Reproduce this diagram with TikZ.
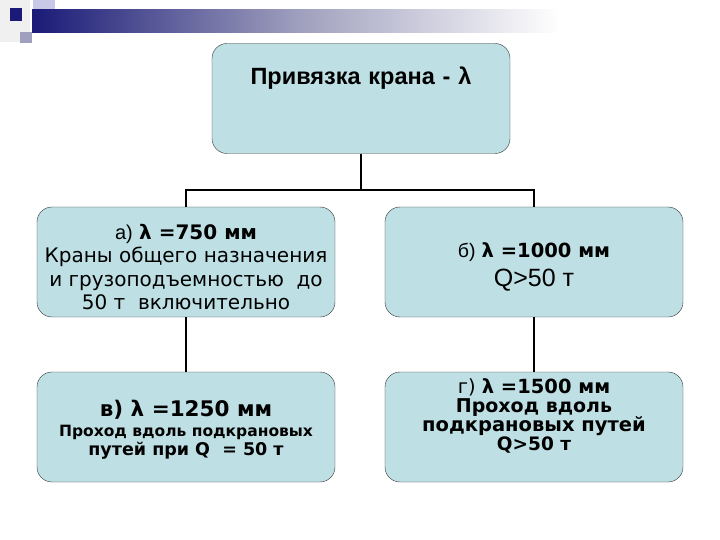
\documentclass[tikz,border=0pt]{standalone}
\usepackage{fontspec}
\setmainfont{DejaVu Sans}
\newfontfamily\arialfont{Liberation Sans}
\usetikzlibrary{positioning}
\definecolor{boxfill}{RGB}{190,224,228}
\definecolor{hdrnavy}{RGB}{26,26,120}
\definecolor{hdrgray}{RGB}{160,160,190}
\definecolor{hdrlav}{RGB}{200,200,232}
\newcommand{\fsz}[2]{\fontsize{#1}{#2}\selectfont}

\begin{document}
\begin{tikzpicture}[x=1pt,y=-1pt,
    cranebox/.style={draw=black!80,fill=boxfill,rounded corners=15pt,minimum width=298pt,minimum height=110pt,align=center,inner sep=0pt},
    link/.style={line width=2pt,black}]
    \useasboundingbox (0,0) rectangle (720,540);
    % header strip
    \fill[black!6] (0,0) rectangle (30,42);
    \fill[hdrlav] (33,0) rectangle (55,20);
    \fill[hdrgray!70] (32,18) rectangle (43,32);
    \fill[hdrgray] (20,32) rectangle (32,43);
    \fill[hdrnavy] (10,8) rectangle (22,21);
    \shade[left color=hdrnavy,right color=hdrgray] (32,10) rectangle (300,33);
    \shade[left color=hdrgray,right color=white] (300,10) rectangle (560,33);
    % boxes
    \node[cranebox,text width=298pt,text height=41pt,text depth=68pt,font=\arialfont\bfseries\fsz{23.5}{26}] (top) at (361,98.5) {Привязка крана - λ};
    \node[cranebox,font=\fsz{20}{23.5},text height=96pt] (a) at (186,262) {{\arialfont а)} \textbf{λ =750 мм}\\Краны общего назначения\\и грузоподъемностью~~до\\50 т~~включительно};
    \node[cranebox,font=\fsz{19.5}{29},text height=53pt] (b) at (534,262) {{\arialfont б)} \textbf{λ =1000 мм}\\{\arialfont\fsz{25}{29}Q>50 т}};
    \node[cranebox,font=\bfseries\fsz{21.5}{19.5},text height=61pt] (c) at (186,427) {в) λ =1250 мм\\{\fsz{15.5}{19.5}Проход вдоль подкрановых}\\{\fsz{17.5}{19.5}путей при Q~~= 50 т}};
    \node[cranebox,font=\fsz{19.5}{19},text depth=24pt] (d) at (534,427) {г) \textbf{λ =1500 мм}\\{\bfseries\fsz{19}{19}Проход вдоль}\\\textbf{подкрановых путей}\\{\bfseries\fsz{18.5}{19}Q>50 т}};
    % connectors
    \coordinate (split) at (361,190);
    \draw[link] (top.south) -- (split);
    \draw[link] (a.north) |- (split) -| (b.north);
    \draw[link] (a) -- (c);
    \draw[link] (b) -- (d);
\end{tikzpicture}
\end{document}
